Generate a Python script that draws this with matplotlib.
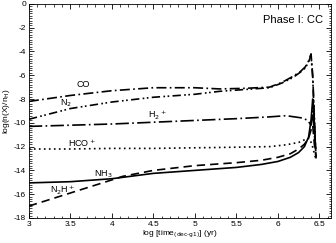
import numpy as np
import matplotlib.pyplot as plt
from matplotlib.ticker import MultipleLocator, FormatStrFormatter

plt.rcParams['font.family'] = ['Liberation Sans', 'DejaVu Sans']
plt.rcParams['axes.unicode_minus'] = False

# log time (yr) and log abundance
t_co = [3.0, 3.5, 4.0, 4.5, 5.0, 5.3, 5.6, 5.9, 6.05, 6.18, 6.27, 6.33, 6.37, 6.40, 6.42, 6.44, 6.46]
co = [-8.2, -7.7, -7.3, -7.05, -7.05, -7.15, -7.1, -7.0, -6.6, -6.1, -5.7, -5.3, -4.8, -4.2, -6.0, -9.5, -13.1]

t_n2 = [3.0, 3.5, 4.0, 4.5, 5.0, 5.3, 5.6, 5.9, 6.05, 6.18, 6.27, 6.33, 6.37, 6.40, 6.42, 6.44, 6.46]
n2 = [-9.7, -8.8, -8.25, -7.85, -7.6, -7.35, -7.2, -7.05, -6.65, -6.2, -5.75, -5.4, -4.9, -4.3, -6.2, -9.8, -13.0]

t_h2p = [3.0, 3.5, 4.0, 4.5, 5.0, 5.5, 5.9, 6.1, 6.3, 6.36, 6.40, 6.42, 6.44, 6.46]
h2p = [-10.3, -10.2, -10.1, -9.95, -9.8, -9.65, -9.5, -9.4, -9.6, -9.8, -10.2, -9.0, -11.0, -12.5]

t_hcop = [3.0, 3.5, 4.0, 4.5, 5.0, 5.5, 5.9, 6.1, 6.25, 6.33, 6.38, 6.41, 6.44, 6.46]
hcop = [-12.2, -12.2, -12.15, -12.15, -12.1, -12.05, -12.0, -11.85, -11.65, -11.4, -11.3, -11.8, -12.6, -13.1]

t_nh3 = [3.0, 3.5, 4.0, 4.5, 5.0, 5.5, 5.8, 6.0, 6.15, 6.25, 6.32, 6.37, 6.40, 6.42, 6.43, 6.45]
nh3 = [-15.05, -14.95, -14.7, -14.25, -14.0, -13.75, -13.5, -13.25, -12.9, -12.5, -12.0, -11.2, -9.8, -8.0, -8.6, -11.5]

t_n2hp = [3.0, 3.5, 4.0, 4.13, 4.5, 5.0, 5.5, 5.8, 6.0, 6.15, 6.25, 6.32, 6.37, 6.40, 6.42, 6.44, 6.46]
n2hp = [-17.0, -15.9, -14.8, -14.5, -14.0, -13.6, -13.35, -13.15, -12.9, -12.6, -12.2, -11.8, -11.3, -10.6, -10.2, -11.8, -12.9]

fig = plt.figure(figsize=(3.36, 2.43), dpi=100)
ax = fig.add_axes([0.086, 0.103, 0.899, 0.881])

lw = 1.2
ax.plot(t_co, co, color='k', lw=lw, ls=(0, (6, 2, 1, 2)))
ax.plot(t_n2, n2, color='k', lw=lw, ls=(0, (5, 2, 1, 1.5, 1, 2)))
ax.plot(t_h2p, h2p, color='k', lw=lw, ls=(0, (8, 2, 1, 2)))
ax.plot(t_hcop, hcop, color='k', lw=lw, ls=(0, (1, 2)))
ax.plot(t_nh3, nh3, color='k', lw=lw)
ax.plot(t_n2hp, n2hp, color='k', lw=lw, ls=(0, (5, 3)))

fs = 6.5
ax.text(3.57, -7.0, 'CO', fontsize=fs)
ax.text(3.38, -8.55, 'N$_2$', fontsize=fs)
ax.text(4.43, -9.6, 'H$_2$$^+$', fontsize=fs)
ax.text(3.47, -12.05, 'HCO$^+$', fontsize=fs)
ax.text(3.78, -14.55, 'NH$_3$', fontsize=fs)
ax.text(3.26, -15.95, 'N$_2$H$^+$', fontsize=fs)
ax.text(0.975, 0.91, 'Phase I: CC', transform=ax.transAxes, ha='right', fontsize=8)

ax.set_xlim(3, 6.64)
ax.set_ylim(-18, 0)
ax.xaxis.set_major_locator(MultipleLocator(0.5))
ax.xaxis.set_minor_locator(MultipleLocator(0.1))
ax.xaxis.set_major_formatter(FormatStrFormatter('%g'))
ax.yaxis.set_major_locator(MultipleLocator(2))
ax.yaxis.set_minor_locator(MultipleLocator(0.2))
ax.yaxis.set_major_formatter(FormatStrFormatter('%g'))
ax.tick_params(which='both', direction='in', top=True, right=True, labelsize=6, pad=2)
ax.tick_params(which='major', length=3.5, width=0.6)
ax.tick_params(which='minor', length=1.8, width=0.5)
for s in ax.spines.values():
    s.set_linewidth(0.6)

ax.set_xlabel('log [time$_{\\rm (dec\\text{-}g1)}$] (yr)', fontsize=6, labelpad=1)
ax.set_ylabel('log(n(X)/n$_{\\rm H}$)', fontsize=6, labelpad=1)

fig.savefig('out.png', dpi=100)
